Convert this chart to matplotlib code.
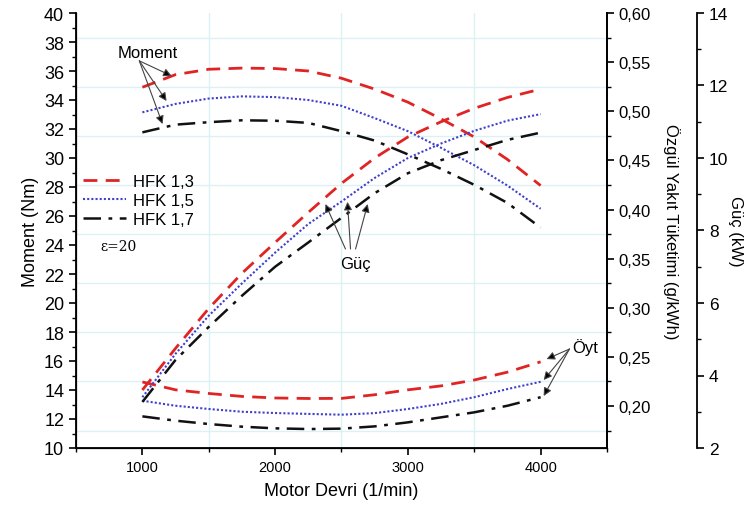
import numpy as np
import matplotlib
matplotlib.use("Agg")
import matplotlib.pyplot as plt
from matplotlib.ticker import MultipleLocator, FuncFormatter
from matplotlib.transforms import blended_transform_factory

plt.rcParams['font.family'] = ['Liberation Sans', 'DejaVu Sans']

rpm = [1000, 1250, 1500, 1750, 2000, 2250, 2500, 2750, 3000, 3250, 3500, 3750, 4000]
labels = ["HFK 1,3", "HFK 1,5", "HFK 1,7"]

# Moment (Nm)
moment_13 = [34.88, 35.75, 36.12, 36.2, 36.17, 36.0, 35.5, 34.75, 33.85, 32.7, 31.45, 29.9, 28.1]
moment_15 = [33.15, 33.73, 34.1, 34.25, 34.2, 34.0, 33.6, 32.75, 31.85, 30.7, 29.5, 28.1, 26.5]
moment_17 = [31.77, 32.3, 32.47, 32.6, 32.57, 32.42, 31.85, 31.2, 30.25, 29.25, 28.15, 26.9, 25.2]

# Guc (kW)
guc_13 = [3.6, 4.75, 5.85, 6.82, 7.67, 8.5, 9.3, 10.0, 10.58, 11.0, 11.37, 11.67, 11.9]
guc_15 = [3.4, 4.6, 5.65, 6.54, 7.39, 8.18, 8.8, 9.45, 10.0, 10.4, 10.75, 11.03, 11.21]
guc_17 = [3.27, 4.43, 5.34, 6.2, 7.0, 7.67, 8.35, 9.03, 9.58, 9.94, 10.22, 10.5, 10.7]

# Ozgul yakit tuketimi (g/kWh)
oyt_13 = [0.2245, 0.2165, 0.2128, 0.2098, 0.2082, 0.2077, 0.2078, 0.2115, 0.2165, 0.2205, 0.2265, 0.2345, 0.245]
oyt_15 = [0.2054, 0.2003, 0.197, 0.1942, 0.1929, 0.192, 0.1912, 0.1928, 0.197, 0.2022, 0.209, 0.2173, 0.2247]
oyt_17 = [0.1895, 0.1851, 0.1817, 0.179, 0.1773, 0.1766, 0.177, 0.1793, 0.1834, 0.1885, 0.1936, 0.2003, 0.209]

red = '#e02424'
blue = '#4040cc'
black = '#111111'
styles = [dict(color=red, ls=(0, (5, 3)), lw=2.0),
          dict(color=blue, ls=(0, (1, 1)), lw=1.5),
          dict(color=black, ls=(0, (7, 3, 1.5, 3)), lw=1.8)]

fig = plt.figure(figsize=(7.48, 5.10), dpi=100)
ax = fig.add_axes([76 / 748, 61 / 510, 531 / 748, 435 / 510])
ax2 = ax.twinx()
ax3 = ax.twinx()
ax3.spines['right'].set_position(('axes', 621 / 531))

ax.set_xlim(500, 4500)
ax.set_ylim(10, 40)
ax2.set_ylim(0.1573, 0.60)
ax3.set_ylim(2, 14)

# light grid lines (drawn on the bottom axes so they stay under everything)
for xv in [1500, 2500, 3500]:
    ax.axvline(xv, color='#dcf1f3', lw=1.0, zorder=0)
gtr = blended_transform_factory(ax.transAxes, ax2.transData)
for yv in np.arange(0.175, 0.6, 0.05):
    ax.plot([0, 1], [yv, yv], transform=gtr, color='#dcf1f3', lw=1.0, zorder=0)

handles = []
for m, st, lab in zip([moment_13, moment_15, moment_17], styles, labels):
    h, = ax.plot(rpm, m, label=lab, **st)
    handles.append(h)
for o, st in zip([oyt_13, oyt_15, oyt_17], styles):
    ax2.plot(rpm, o, **st)
for g, st in zip([guc_13, guc_15, guc_17], styles):
    ax3.plot(rpm, g, **st)

for a in (ax, ax2, ax3):
    a.spines['top'].set_visible(False)
    a.tick_params(which='both', direction='out')
    a.tick_params(which='major', length=5, width=1.2)
    a.tick_params(which='minor', length=3, width=1.0)
for sp in ['left', 'bottom', 'right']:
    ax.spines[sp].set_linewidth(1.3)
ax2.spines['right'].set_linewidth(1.3)
ax3.spines['right'].set_linewidth(1.3)

ax.xaxis.set_major_locator(MultipleLocator(1000))
ax.xaxis.set_minor_locator(MultipleLocator(500))
ax.yaxis.set_major_locator(MultipleLocator(2))
ax.yaxis.set_minor_locator(MultipleLocator(1))
ax.set_xticks([1000, 2000, 3000, 4000])
ax.tick_params(axis='x', labelsize=10.5)
ax.tick_params(axis='y', labelsize=13)

ax2.yaxis.set_major_locator(MultipleLocator(0.05))
ax2.yaxis.set_minor_locator(MultipleLocator(0.025))
ax2.set_yticks(np.arange(0.20, 0.601, 0.05))
ax2.yaxis.set_major_formatter(FuncFormatter(lambda v, p: f"{v:.2f}".replace('.', ',')))
ax2.tick_params(axis='y', labelsize=12)

ax3.yaxis.set_major_locator(MultipleLocator(2))
ax3.yaxis.set_minor_locator(MultipleLocator(1))
ax3.tick_params(axis='y', labelsize=12.5)

ax.set_xlabel("Motor Devri (1/min)", fontsize=13, labelpad=6)
ax.set_ylabel("Moment (Nm)", fontsize=13, labelpad=4)
ax2.set_ylabel("Özgül Yakıt Tüketimi (g/kWh)", fontsize=12, rotation=270, labelpad=21)
ax3.set_ylabel("Güç (kW)", fontsize=12, rotation=270, labelpad=11)

ax.legend(handles=handles, loc='upper left', bbox_to_anchor=(-0.015, 0.665), frameon=False,
          fontsize=12, handlelength=2.6, labelspacing=0.25, handletextpad=0.4)

ax.text(681, 23.9, "ε=20", fontsize=10, family='DejaVu Serif', va='center')

arrow_k = dict(arrowstyle='-|>', fc='black', ec='#444444', lw=0.8, mutation_scale=12,
               shrinkA=0, shrinkB=0)

# Moment annotation
ax.text(1038, 37.3, "Moment", fontsize=12, ha='center', va='center')
for tx, ty in [(1220, 35.66), (1182, 33.93), (1152, 32.34)]:
    ax.annotate("", xy=(tx, ty), xytext=(977, 36.7), arrowprops=arrow_k)

# Guc annotation
ax3.text(2606, 7.08, "Güç", fontsize=12, ha='center', va='center')
for (tx, ty), sx in zip([(2379, 8.73), (2545, 8.79), (2697, 8.73)], [2530, 2568, 2606]):
    ax3.annotate("", xy=(tx, ty), xytext=(sx, 7.49), arrowprops=arrow_k)

# Oyt annotation
ax2.text(4235, 0.2604, "Öyt", fontsize=12, ha='left', va='center')
for tx, ty in [(4045, 0.2478), (4023, 0.2265), (4023, 0.2102)]:
    ax2.annotate("", xy=(tx, ty), xytext=(4217, 0.258), arrowprops=arrow_k)

fig.savefig("out.png", dpi=100)
